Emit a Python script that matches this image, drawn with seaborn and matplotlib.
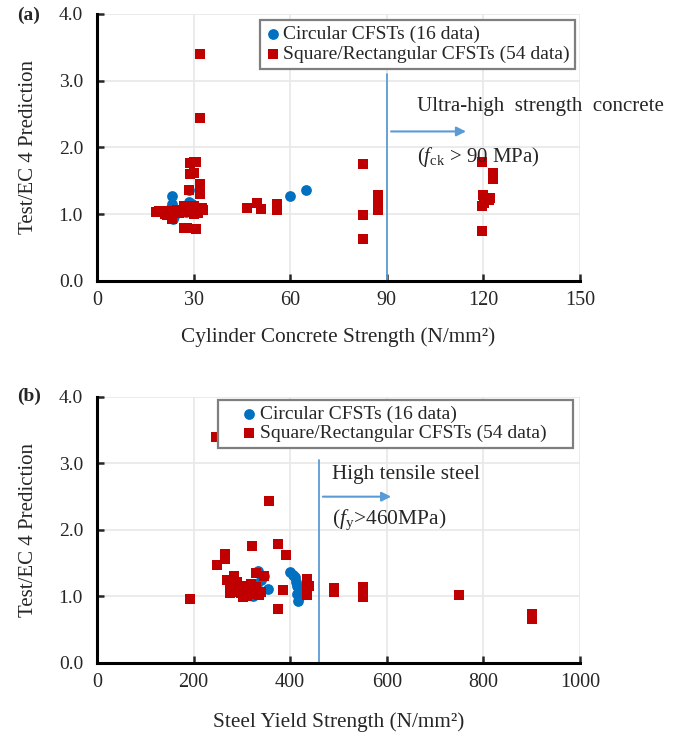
import pandas as pd
import seaborn as sns
import matplotlib.pyplot as plt

# panel (a): cylinder concrete strength vs Test/EC4
circ_fc = [23.2, 23.2, 23.5, 22.7, 24.3, 27.7, 28.7, 28.7, 30.5, 29.5,
           26.5, 31.0, 24.0, 28.0, 60.0, 65.0]
circ_ratio_a = [1.27, 1.16, 0.935, 1.085, 1.01, 1.035, 1.36, 1.185, 1.11, 1.15,
                1.05, 1.08, 0.97, 1.12, 1.27, 1.36]

sq_fc = [31.9, 31.9, 29.0, 30.0, 30.8, 29.0, 30.2, 31.9, 31.9, 28.5,
         18.3, 20.0, 21.7, 23.2, 24.8, 26.4, 27.9, 29.5, 31.0, 32.9,
         30.2, 26.9, 28.1, 30.8, 46.5, 49.8, 51.0, 56.0, 56.0, 82.5,
         82.5, 82.5, 87.3, 87.3, 87.3, 119.5, 123.1, 123.1, 120.0, 121.8,
         122.0, 119.5, 120.3, 119.5, 22.0, 25.5, 27.0, 28.2, 30.0, 31.5,
         32.5, 21.0, 19.3, 29.3]
sq_ratio_a = [3.40, 2.435, 1.76, 1.775, 1.78, 1.61, 1.62, 1.46, 1.30, 1.36,
              1.035, 1.045, 0.985, 0.935, 1.07, 1.06, 1.10, 1.085, 1.06, 1.06,
              1.01, 0.79, 0.79, 0.78, 1.10, 1.17, 1.085, 1.15, 1.07, 1.75,
              0.985, 0.635, 1.285, 1.22, 1.06, 1.775, 1.62, 1.535, 1.295, 1.21,
              1.24, 1.12, 1.17, 0.75, 1.05, 1.02, 1.13, 1.04, 1.12, 1.02,
              1.10, 1.00, 1.05, 1.05]

# panel (b): steel yield strength vs Test/EC4
circ_fy = [334, 324, 331, 355, 400, 410, 415, 415, 417, 340,
           345, 412, 418, 328, 405, 420]
circ_ratio_b = [1.385, 1.01, 1.185, 1.11, 1.37, 1.285, 1.16, 1.035, 0.935, 1.25,
                1.30, 1.22, 1.10, 1.08, 1.33, 1.00]

sq_fy = [247, 357, 322, 374, 391, 265, 265, 248, 192, 284,
         279, 275, 293, 286, 302, 312, 324, 329, 345, 329,
         385, 374, 434, 434, 434, 434, 490, 490, 550, 550,
         550, 750, 900, 900, 280, 290, 298, 310, 318, 335,
         300, 270, 287, 305, 315, 326, 434, 434, 440, 276,
         283, 296, 320, 340]
sq_ratio_b = [3.40, 2.435, 1.76, 1.785, 1.625, 1.635, 1.56, 1.47, 0.96, 1.285,
              1.21, 1.16, 1.16, 1.06, 0.985, 1.135, 1.06, 1.36, 1.30, 1.135,
              1.10, 0.81, 1.26, 1.135, 1.06, 1.20, 1.06, 1.12, 1.06, 1.135,
              0.985, 1.02, 0.73, 0.66, 1.10, 1.22, 1.05, 1.00, 1.08, 1.02,
              1.15, 1.25, 1.12, 1.08, 1.04, 1.10, 1.10, 1.02, 1.15, 1.05,
              1.30, 1.12, 1.18, 1.06]

circ_label = "Circular CFSTs (16 data)"
sq_label = "Square/Rectangular CFSTs (54 data)"

blue = "#0070c0"
red = "#c00000"
arrow_blue = "#5b9bd5"

sns.set_style("white")
plt.rcParams["font.family"] = ["Liberation Serif", "DejaVu Serif"]
plt.rcParams["mathtext.fontset"] = "custom"
plt.rcParams["mathtext.rm"] = "Liberation Serif"
plt.rcParams["mathtext.it"] = "Liberation Serif:italic"

fig = plt.figure(figsize=(6.82, 7.35), dpi=100)
ax_a = fig.add_axes([0.1422, 0.6177, 0.708, 0.3633])
ax_b = fig.add_axes([0.1422, 0.098, 0.708, 0.362])


def style_axes(ax, xmax, xstep):
    ax.set_ylim(0, 4)
    ax.set_xlim(0, xmax)
    ax.set_yticks([0, 1, 2, 3, 4])
    ax.set_yticklabels(["0.0", "1.0", "2.0", "3.0", "4.0"])
    ax.set_xticks(list(range(0, xmax + 1, xstep)))
    ax.grid(True, color="#e8e8e8", linewidth=1.2)
    ax.set_axisbelow(True)
    for s in ["top", "right"]:
        ax.spines[s].set_visible(False)
    for s in ["left", "bottom"]:
        ax.spines[s].set_color("black")
        ax.spines[s].set_linewidth(2.2)
    ax.tick_params(direction="in", length=5, width=1.8,
                   left=True, bottom=True)
    ax.tick_params(axis="y", labelsize=14, pad=10)
    ax.tick_params(axis="x", labelsize=14.5, pad=7)
    ax.set_ylabel("Test/EC 4 Prediction", fontsize=15)
    ax.yaxis.set_label_coords(-0.122, 0.5)


df_a = pd.DataFrame({
    "x": circ_fc + sq_fc,
    "y": circ_ratio_a + sq_ratio_a,
    "type": [circ_label] * len(circ_fc) + [sq_label] * len(sq_fc),
})
df_b = pd.DataFrame({
    "x": circ_fy + sq_fy,
    "y": circ_ratio_b + sq_ratio_b,
    "type": [circ_label] * len(circ_fy) + [sq_label] * len(sq_fy),
})

for ax, df in [(ax_a, df_a), (ax_b, df_b)]:
    sns.scatterplot(
        data=df[df["type"] == circ_label], x="x", y="y",
        color=blue, marker="o", s=60, linewidth=0,
        label=circ_label, ax=ax, zorder=3
    )
    sns.scatterplot(
        data=df[df["type"] == sq_label], x="x", y="y",
        color=red, marker="s", s=45, linewidth=0,
        label=sq_label, ax=ax, zorder=3
    )

style_axes(ax_a, 150, 30)
style_axes(ax_b, 1000, 200)

ax_a.set_xlabel("Cylinder Concrete Strength (N/mm²)", fontsize=15.3)
ax_a.xaxis.set_label_coords(0.5, -0.172)
ax_b.set_xlabel("Steel Yield Strength (N/mm²)", fontsize=15.3)
ax_b.xaxis.set_label_coords(0.5, -0.184)

# threshold lines, arrows, notes
ax_a.plot([90, 90], [0, 3.1], color=arrow_blue, linewidth=1.3, zorder=2)
ax_a.annotate("", xy=(115.5, 2.24), xytext=(90.5, 2.24),
              arrowprops=dict(arrowstyle="-|>", color=arrow_blue, lw=1.5,
                              mutation_scale=14))
ax_a.text(99.5, 2.61, "Ultra-high  strength  concrete", fontsize=15,
          va="center", ha="left", clip_on=False)
ax_a.text(99.5, 1.86, r"($f_{\mathrm{ck}}$ > 90 MPa)", fontsize=15,
          va="center", ha="left")

ax_b.plot([460, 460], [0, 3.05], color=arrow_blue, linewidth=1.3, zorder=2)
ax_b.annotate("", xy=(615, 2.5), xytext=(462, 2.5),
              arrowprops=dict(arrowstyle="-|>", color=arrow_blue, lw=1.5,
                              mutation_scale=14))
ax_b.text(487, 2.83, "High tensile steel", fontsize=15.3, va="center", ha="left")
ax_b.text(487, 2.15, r"($f_{\mathrm{y}}$>460MPa)", fontsize=15.5,
          va="center", ha="left")

leg_a = ax_a.legend(loc="upper right", bbox_to_anchor=(0.99, 0.978),
                    fontsize=14, fancybox=False, framealpha=1,
                    edgecolor="#7f7f7f", handlelength=0.7, handletextpad=0.15,
                    borderpad=0.3, labelspacing=0.12, borderaxespad=0)
leg_a.get_frame().set_linewidth(1.6)

leg_b = ax_b.legend(loc="upper left", bbox_to_anchor=(0.2505, 0.5, 0.735, 0.489),
                    mode="expand",
                    fontsize=14, fancybox=False, framealpha=1,
                    edgecolor="#7f7f7f", handlelength=2.6, handletextpad=-0.75,
                    borderpad=0.3, labelspacing=0.05, borderaxespad=0)
leg_b.get_frame().set_linewidth(1.6)

fig.text(0.025, 0.9796, "(a)", fontsize=14, fontweight="bold", va="center")
fig.text(0.025, 0.4612, "(b)", fontsize=14, fontweight="bold", va="center")

plt.savefig("out.png", dpi=100)
